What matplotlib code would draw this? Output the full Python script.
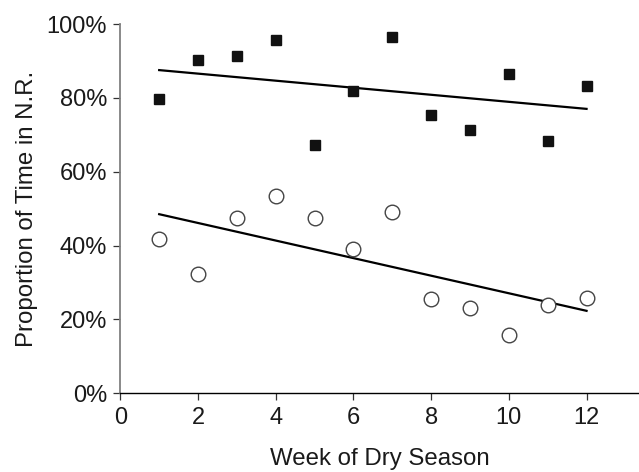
import numpy as np
import matplotlib
matplotlib.use("Agg")
import matplotlib.pyplot as plt
from matplotlib.ticker import FuncFormatter

plt.rcParams['font.family'] = ['Liberation Sans', 'DejaVu Sans']

weeks = [1, 2, 3, 4, 5, 6, 7, 8, 9, 10, 11, 12]
upper_pct = [79.7, 90.2, 91.3, 95.7, 67.3, 81.9, 96.4, 75.3, 71.3, 86.6, 68.4, 83.3]
lower_pct = [41.7, 32.2, 47.6, 53.5, 47.6, 39.2, 49.1, 25.5, 23.2, 15.9, 23.9, 25.7]
x_ticks = [0, 2, 4, 6, 8, 10, 12]
y_ticks = [0, 20, 40, 60, 80, 100]

fig = plt.figure(figsize=(6.39, 4.72), dpi=100)
ax = fig.add_axes([0.1883, 0.1667, 0.8117, 0.7823])

x = np.array(weeks, dtype=float)
yu = np.array(upper_pct) / 100
yl = np.array(lower_pct) / 100

for y in (yu, yl):
    m, b = np.polyfit(x, y, 1)
    xs = np.array([x.min(), x.max()])
    ax.plot(xs, m * xs + b, color='black', lw=1.6, zorder=2)

ax.plot(x, yu, ls='none', marker='s', ms=7.2, mfc='#111111', mec='#111111', zorder=3)
ax.plot(x, yl, ls='none', marker='o', ms=10.5, mfc='white', mec='#444444', mew=1.0, zorder=3)

ax.set_xlim(0, 13.35)
ax.set_ylim(0, 1)
ax.set_xticks(x_ticks)
ax.set_yticks([v / 100 for v in y_ticks])
ax.yaxis.set_major_formatter(FuncFormatter(lambda v, p: f"{v*100:.0f}%"))

for s in ('top', 'right'):
    ax.spines[s].set_visible(False)
ax.spines['left'].set_color('#808080')
ax.spines['left'].set_linewidth(1.3)
ax.spines['bottom'].set_color('black')
ax.spines['bottom'].set_linewidth(1.0)
ax.tick_params(axis='both', direction='out', length=5, width=0.9, labelsize=17,
               labelcolor='#1a1a1a', color='#333333', pad=4.5)
ax.set_clip_on(False)

ax.set_xlabel('Week of Dry Season', fontsize=17.3, color='#1a1a1a')
ax.set_ylabel('Proportion of Time in N.R.', fontsize=17.3, color='#1a1a1a')
ax.xaxis.set_label_coords(0.5, -0.148)
ax.yaxis.set_label_coords(-0.158, 0.5)

fig.savefig('out.png', dpi=100)
